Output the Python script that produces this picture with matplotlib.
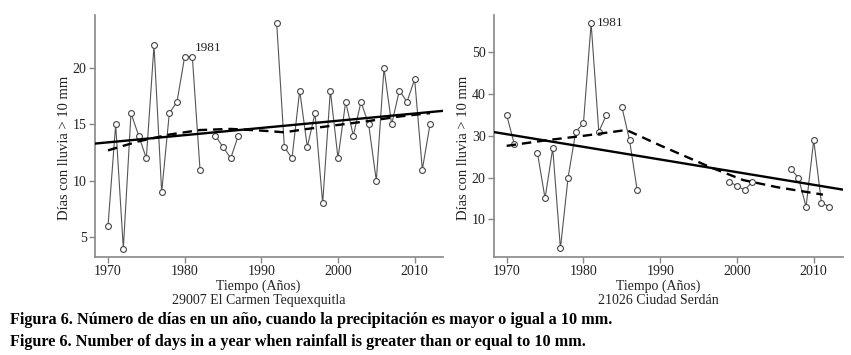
import numpy as np
import matplotlib
matplotlib.use('Agg')
import matplotlib.pyplot as plt

plt.rcParams['font.family'] = ['Liberation Serif', 'DejaVu Serif']

# años de la serie
years = list(range(1970, 2013))

# 29007 El Carmen Tequexquitla (None = sin dato)
carmen = [6, 15, 4, 16, 14, 12, 22, 9, 16, 17, 21, 21, 11, None, 14, 13, 12, 14,
          None, None, None, None, 24, 13, 12, 18, 13, 16, 8, 18, 12, 17, 14, 17,
          15, 10, 20, 15, 18, 17, 19, 11, 15]
# tendencia lineal (valores en los extremos del eje)
carmen_trend_x = [1968.3, 2013.7]
carmen_trend_y = [13.3, 16.2]
# suavizado (loess)
carmen_smooth_x = [1970, 1974, 1978, 1982, 1986, 1990, 1993, 1996, 2000, 2004, 2008, 2012]
carmen_smooth_y = [12.7, 13.5, 14.1, 14.5, 14.6, 14.45, 14.3, 14.6, 14.95, 15.3, 15.7, 16.0]

# 21026 Ciudad Serdán
serdan = [35, 28, None, None, 26, 15, 27, 3, 20, 31, 33, 57, 31, 35, None, 37, 29, 17,
          None, None, None, None, None, None, None, None, None, None, None, 19, 18, 17, 19,
          None, None, None, None, 22, 20, 13, 29, 14, 13]
serdan_trend_x = [1968.35, 2013.8]
serdan_trend_y = [30.9, 17.1]
serdan_smooth_x = [1970, 1975, 1980, 1985.6, 1990, 1996.5, 2000.8, 2005.2, 2011.2]
serdan_smooth_y = [27.6, 28.9, 30.0, 31.4, 27.7, 22.5, 19.4, 17.7, 15.9]

xticks = [1970, 1980, 1990, 2000, 2010]


def to_arr(v):
    return np.array([np.nan if x is None else x for x in v], dtype=float)


def panel(ax, vals, tx, ty, sx, sy, xlim, ylim, yticks, station, ann_off, ann_dy):
    y = to_arr(vals)
    ax.plot(years, y, color='#555555', lw=0.8, marker='o', ms=4.2,
            mfc='white', mec='#444444', mew=0.8, zorder=3)
    ax.plot(tx, ty, color='black', lw=1.7, zorder=4)
    ax.plot(sx, sy, color='black', lw=1.7, ls=(0, (4, 2.5)), zorder=4)
    i = years.index(1981)
    ax.annotate('1981', (1981, y[i]), xytext=(ann_off, ann_dy), textcoords='offset points',
                fontsize=9.5, va='center', ha='left', color='#222222')
    ax.set_xlim(xlim)
    ax.set_ylim(ylim)
    ax.set_xticks(xticks)
    ax.set_yticks(yticks)
    for s in ['top', 'right']:
        ax.spines[s].set_visible(False)
    for s in ['left', 'bottom']:
        ax.spines[s].set_color('#888888')
        ax.spines[s].set_linewidth(1.2)
    ax.tick_params(axis='both', colors='#888888', labelcolor='#222222', labelsize=10,
                   length=4.5, width=1.0, pad=1.5)
    ax.set_ylabel('Días con lluvia > 10 mm', fontsize=10.5, color='#222222')
    ax.yaxis.set_label_coords(-0.068, 0.45)
    ax.text(0.47, -0.12, 'Tiempo (Años)', transform=ax.transAxes, ha='center', va='center',
            fontsize=10, color='#222222')
    ax.text(0.47, -0.178, station, transform=ax.transAxes, ha='center', va='center',
            fontsize=10, color='#222222')


fig = plt.figure(figsize=(8.51, 3.55), dpi=100)
ax1 = fig.add_axes([0.1116, 0.276, 0.409, 0.682])
ax2 = fig.add_axes([0.5805, 0.276, 0.41, 0.682])

panel(ax1, carmen, carmen_trend_x, carmen_trend_y, carmen_smooth_x, carmen_smooth_y,
      (1968.3, 2013.7), (3.25, 24.7), [5, 10, 15, 20], '29007 El Carmen Tequexquitla', 2, 6.5)
panel(ax2, serdan, serdan_trend_x, serdan_trend_y, serdan_smooth_x, serdan_smooth_y,
      (1968.35, 2013.8), (0.94, 59), [10, 20, 30, 40, 50], '21026 Ciudad Serdán', 4, 0)

fig.text(0.012, 0.098, 'Figura 6. Número de días en un año, cuando la precipitación es mayor o igual a 10 mm.',
         fontsize=11.7, fontweight='bold', va='center', ha='left')
fig.text(0.012, 0.038, 'Figure 6. Number of days in a year when rainfall is greater than or equal to 10 mm.',
         fontsize=11.7, fontweight='bold', va='center', ha='left')

fig.savefig('out.png', dpi=100)
